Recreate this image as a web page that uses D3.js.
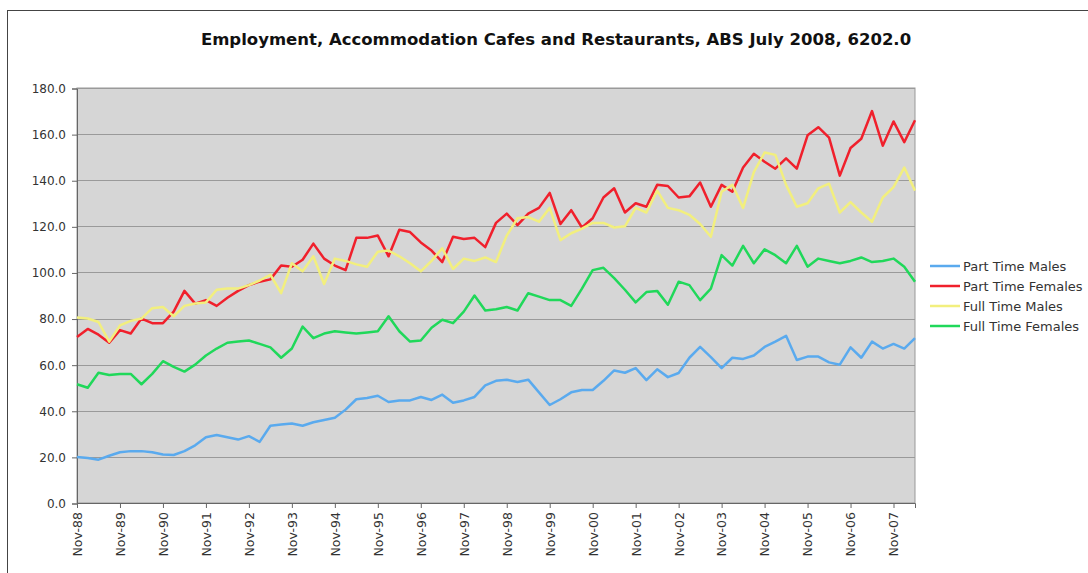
<!DOCTYPE html>
<html>
<head>
<meta charset="utf-8" />
<title>Employment, Accommodation Cafes and Restaurants</title>
<style>
  body { margin: 0; background: #fff; }
  svg { display: block; }
  .title { font: bold 16.5px "DejaVu Sans", Verdana, sans-serif; fill: #111; }
  .axis text { font: 12px "DejaVu Sans", Verdana, sans-serif; fill: #333; }
  .axis path, .axis line { stroke: #666; }
  .grid line { stroke: #9a9a9a; stroke-width: 1px; }
  .legend text { font: 13px "DejaVu Sans", Verdana, sans-serif; fill: #333; }
  .series { fill: none; stroke-width: 2.5px; stroke-linejoin: round; }
</style>
<script src="https://cdn.jsdelivr.net/npm/d3@7"></script>
</head>
<body>
<svg width="1088" height="573"></svg>
<script>
// quarterly, Nov-88 .. May-08
var months = ['Nov', 'Feb', 'May', 'Aug'];
var quarters = [];
for (var i = 0; i < 79; i++) {
  var yy = (88 + Math.ceil(i / 4)) % 100;
  quarters.push(months[i % 4] + '-' + (yy < 10 ? '0' : '') + yy);
}
var tickLabels = ['Nov-88', 'Nov-89', 'Nov-90', 'Nov-91', 'Nov-92', 'Nov-93', 'Nov-94',
  'Nov-95', 'Nov-96', 'Nov-97', 'Nov-98', 'Nov-99', 'Nov-00', 'Nov-01', 'Nov-02',
  'Nov-03', 'Nov-04', 'Nov-05', 'Nov-06', 'Nov-07'];
var yTicks = [0, 20, 40, 60, 80, 100, 120, 140, 160, 180];

var partTimeMales = [20, 19.5, 18.8, 20.5, 22, 22.5, 22.5, 22, 21, 20.8,
  22.5, 25, 28.5, 29.5, 28.5, 27.5, 29, 26.5, 33.5, 34,
  34.5, 33.5, 35, 36, 37, 40.5, 45, 45.5, 46.5, 43.8,
  44.5, 44.5, 46, 44.7, 47, 43.5, 44.5, 46, 51, 53,
  53.5, 52.5, 53.5, 48, 42.5, 45, 48, 49, 49, 53,
  57.5, 56.5, 58.5, 53.3, 58, 54.6, 56.4, 63, 67.7, 63.3,
  58.5, 63, 62.5, 64, 67.7, 70, 72.5, 62, 63.5, 63.5,
  61, 60, 67.5, 63, 70, 67, 69, 67, 71.5];
var partTimeFemales = [72, 75.5, 73, 69.5, 75, 73.5, 80, 78, 78, 83,
  92, 86.5, 88, 85.5, 89, 92, 94.5, 96, 97, 103,
  102.5, 105.5, 112.5, 106, 103, 101, 115, 115, 116, 107,
  118.5, 117.5, 113, 109.5, 104.5, 115.5, 114.5, 115, 111, 121.5,
  125.5, 120.5, 125.5, 128, 134.5, 121, 127, 119.5, 123.5, 132.5,
  136.5, 126, 130, 128.5, 138, 137.5, 132.5, 133, 139, 128.5,
  138, 135, 145.5, 151.5, 148, 145, 149.5, 145, 159.5, 163,
  158.5, 142, 154, 158, 170, 155, 165.5, 156.5, 166];
var fullTimeMales = [80.5, 80, 78.5, 70, 77, 79, 80, 84.5, 85, 81,
  85.5, 86.5, 87, 92.5, 93, 93, 94.5, 96.5, 99, 91,
  104, 100.5, 107, 95, 106, 105, 103.5, 102.5, 109, 109.5,
  107, 104, 100.5, 105, 110.5, 101.5, 106, 105, 106.5, 104.5,
  116, 123.5, 124, 122, 128, 114, 117, 119, 121.5, 121.5,
  119.5, 120, 128, 126, 135.5, 128, 127, 125, 121, 115.5,
  135, 138, 128, 143.5, 152, 151, 138, 128.5, 130, 136.5,
  138.5, 126, 130.5, 126, 122, 132.5, 137, 145.5, 135.5];
var fullTimeFemales = [51.5, 50, 56.5, 55.5, 56, 56, 51.5, 56, 61.5, 59,
  57, 60, 64, 67, 69.5, 70, 70.5, 69, 67.5, 63,
  67, 76.5, 71.5, 73.5, 74.5, 74, 73.5, 74, 74.5, 81,
  74.5, 70, 70.5, 76, 79.5, 78, 83, 90, 83.5, 84,
  85, 83.5, 91, 89.5, 88, 88, 85.5, 93, 101, 102,
  97.5, 92.5, 87, 91.5, 92, 86, 96, 94.5, 88, 93,
  107.5, 103, 111.5, 104, 110, 107.5, 104, 111.5, 102.5, 106,
  105, 104, 105, 106.5, 104.5, 105, 106, 102.5, 96];

var seriesNames = ['Part Time Males', 'Part Time Females', 'Full Time Males', 'Full Time Females'];
var seriesColors = ['#5aaaee', '#f0202c', '#f2ef7e', '#20d85a'];
var seriesValues = [partTimeMales, partTimeFemales, fullTimeMales, fullTimeFemales];

var svg = d3.select('svg');
var plot = { left: 77, right: 915, top: 88, bottom: 503 };

// outer frame
svg.append('rect')
  .attr('x', 7.5).attr('y', 10.5)
  .attr('width', 1100).attr('height', 600)
  .attr('fill', '#fff').attr('stroke', '#444');

svg.append('text')
  .attr('class', 'title')
  .attr('x', 556).attr('y', 45)
  .attr('text-anchor', 'middle')
  .text('Employment, Accommodation Cafes and Restaurants, ABS July 2008, 6202.0');

var x = d3.scalePoint()
  .domain(quarters)
  .range([plot.left, plot.right]);

var y = d3.scaleLinear()
  .domain([0, 180])
  .range([plot.bottom, plot.top]);

svg.append('rect')
  .attr('x', plot.left).attr('y', plot.top)
  .attr('width', plot.right - plot.left).attr('height', plot.bottom - plot.top)
  .attr('fill', '#d6d6d6').attr('stroke', '#999');

svg.append('g')
  .attr('class', 'grid')
  .selectAll('line')
  .data(yTicks.slice(1))
  .enter().append('line')
    .attr('x1', plot.left).attr('x2', plot.right)
    .attr('y1', function(d) { return Math.round(y(d)) + 0.5; })
    .attr('y2', function(d) { return Math.round(y(d)) + 0.5; });

svg.append('g')
  .attr('class', 'axis')
  .attr('transform', 'translate(' + plot.left + ',0.5)')
  .call(d3.axisLeft(y).tickValues(yTicks).tickSize(5).tickPadding(6)
    .tickFormat(d3.format('.1f')));

var xAxis = svg.append('g')
  .attr('class', 'axis')
  .attr('transform', 'translate(0,' + plot.bottom + ')')
  .call(d3.axisBottom(x).tickValues(tickLabels).tickSize(5));
xAxis.selectAll('text')
  .attr('transform', 'rotate(-90)')
  .attr('text-anchor', 'end')
  .attr('x', -9).attr('y', 0).attr('dy', '0.35em')
  .style('font-size', '12.5px');

var line = d3.line()
  .x(function(d, i) { return x(quarters[i]); })
  .y(function(d) { return y(d); });

svg.append('g')
  .selectAll('path')
  .data(seriesValues)
  .enter().append('path')
    .attr('class', 'series')
    .attr('stroke', function(d, i) { return seriesColors[i]; })
    .attr('d', line);

var legend = svg.append('g')
  .attr('class', 'legend')
  .attr('transform', 'translate(930,266)');
var item = legend.selectAll('g')
  .data(seriesNames)
  .enter().append('g')
    .attr('transform', function(d, i) { return 'translate(0,' + i * 20 + ')'; });
item.append('line')
  .attr('x1', 0).attr('x2', 30)
  .attr('stroke', function(d, i) { return seriesColors[i]; })
  .attr('stroke-width', 2.5);
item.append('text')
  .attr('x', 33).attr('dy', '0.35em')
  .text(function(d) { return d; });
</script>
</body>
</html>
